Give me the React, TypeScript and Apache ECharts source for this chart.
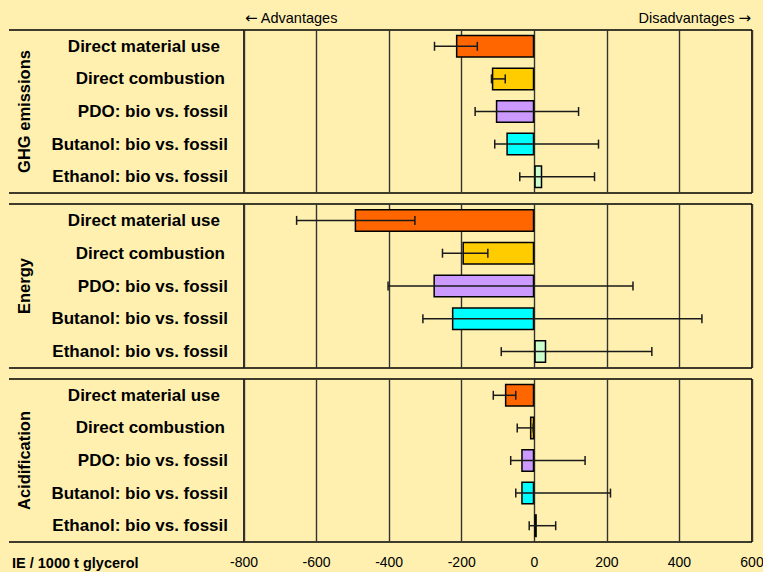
import React, { useEffect, useRef } from "react";
import * as echarts from "echarts";

// Categories shared by all three impact panels (top to bottom)
const categories = [
  "Direct material use",
  "Direct combustion",
  "PDO: bio vs. fossil",
  "Butanol: bio vs. fossil",
  "Ethanol: bio vs. fossil",
];

const barColors = ["#FF6600", "#FFCC00", "#CC99FF", "#00FFFF", "#CCFFCC"];

const panelTitles = ["GHG emissions", "Energy", "Acidification"];

// Mean values (IE / 1000 t glycerol)
const ghgValues = [-216, -117, -106, -77, 22];
const energyValues = [-495, -198, -278, -227, 33];
const acidValues = [-81, -12, -36, -36, 7];

// Uncertainty ranges [low, high]
const ghgRanges = [[-275, -157], [-118, -80], [-163, 122], [-109, 177], [-40, 166]];
const energyRanges = [[-655, -329], [-253, -128], [-403, 272], [-307, 462], [-91, 324]];
const acidRanges = [[-113, -51], [-47, -3], [-65, 140], [-51, 210], [-14, 59]];

const xTicks = { min: -800, max: 600, interval: 200 };

const panelValues = [ghgValues, energyValues, acidValues];
const panelRanges = [ghgRanges, energyRanges, acidRanges];

const BG = "#FFF0B0";
const FONT = "'Liberation Sans', Arial, sans-serif";
const ARROW_FONT = "'DejaVu Sans', sans-serif";

// panel boxes: top and height in px
const panels = [
  { top: 30, height: 163 },
  { top: 204, height: 164 },
  { top: 379, height: 163 },
];
const CHART_W = 763;
const GRID_LEFT = 244;
const GRID_RIGHT = 11;
const LINE_START = 9;

const labelPadKeys = ["p8", "p3", "p0", "p0", "p0"];

export default function App() {
  const ref = useRef<HTMLDivElement>(null);

  useEffect(() => {
    if (!ref.current) return;
    const chart = echarts.init(ref.current, undefined, { renderer: "svg" });

    const labelStyle = { fontFamily: FONT, fontWeight: "bold", fontSize: 17, color: "#000" };

    const grids = panels.map((p) => ({
      left: GRID_LEFT,
      right: GRID_RIGHT,
      top: p.top,
      height: p.height,
      containLabel: false,
      outerBoundsMode: "none",
      show: false,
    }));

    const xAxes = panels.map((_, i) => ({
      type: "value",
      gridIndex: i,
      min: xTicks.min,
      max: xTicks.max,
      interval: xTicks.interval,
      axisLine: { show: false },
      axisTick: { show: false },
      splitLine: { show: true, lineStyle: { color: "#333", width: 1.4 } },
      axisLabel: {
        show: i === panels.length - 1,
        margin: 13,
        fontFamily: FONT,
        fontSize: 14,
        color: "#000",
      },
    }));

    const yAxes = panels.map((_, i) => ({
      type: "category",
      gridIndex: i,
      data: categories,
      inverse: true,
      axisLine: { show: false },
      axisTick: { show: false },
      splitLine: { show: false },
      name: panelTitles[i],
      nameLocation: "middle",
      nameRotate: 90,
      nameGap: 212,
      nameTextStyle: { fontFamily: FONT, fontWeight: "bold", fontSize: 16.5, color: "#000" },
      axisLabel: {
        margin: 16,
        ...labelStyle,
        formatter: (v: string, idx: number) => `{${labelPadKeys[idx]}|${v}}`,
        rich: {
          p8: { ...labelStyle, padding: [0, 8, 0, 0] },
          p3: { ...labelStyle, padding: [0, 3, 0, 0] },
          p0: { ...labelStyle },
        },
      },
    }));

    const barSeries = panelValues.map((vals, i) => ({
      type: "bar",
      xAxisIndex: i,
      yAxisIndex: i,
      barWidth: 23,
      data: vals.map((v, k) => ({
        value: v,
        itemStyle: { color: barColors[k], borderColor: "#000", borderWidth: 1.5 },
      })),
    }));

    const errorSeries = panelRanges.map((ranges, i) => ({
      type: "custom",
      xAxisIndex: i,
      yAxisIndex: i,
      z: 3,
      encode: { x: [1, 2], y: 0 },
      data: ranges.map((r, k) => [k, r[0], r[1]]),
      renderItem: (_params: any, api: any) => {
        const cat = api.value(0);
        const lo = api.coord([api.value(1), cat]);
        const hi = api.coord([api.value(2), cat]);
        const h = 4.5;
        const style = { stroke: "#1a1a1a", lineWidth: 1.5 };
        return {
          type: "group",
          children: [
            { type: "line", shape: { x1: lo[0], y1: lo[1], x2: hi[0], y2: hi[1] }, style },
            { type: "line", shape: { x1: lo[0], y1: lo[1] - h, x2: lo[0], y2: lo[1] + h }, style },
            { type: "line", shape: { x1: hi[0], y1: hi[1] - h, x2: hi[0], y2: hi[1] + h }, style },
          ],
        };
      },
    }));

    // top and bottom rules of every panel, running under the category labels
    const rules: any[] = [];
    panels.forEach((p, i) => {
      [p.top, p.top + p.height].forEach((y, j) => {
        rules.push({
          type: "line",
          id: `rule-${i}-${j}`,
          shape: { x1: LINE_START, y1: y, x2: CHART_W - GRID_RIGHT, y2: y },
          style: { stroke: "#000", lineWidth: 1.6 },
        });
      });
    });

    // left and right edges of every plot box
    const edges: any[] = [];
    panels.forEach((p, i) => {
      [GRID_LEFT, CHART_W - GRID_RIGHT].forEach((x, j) => {
        edges.push({
          type: "line",
          id: `edge-${i}-${j}`,
          shape: { x1: x, y1: p.top, x2: x, y2: p.top + p.height },
          style: { stroke: "#000", lineWidth: 1.6 },
        });
      });
    });

    const plain = { fontFamily: FONT, fontSize: 14.5, fontWeight: "normal", color: "#000" };
    const arrow = { fontFamily: ARROW_FONT, fontSize: 15, fontWeight: "normal", color: "#000" };

    chart.setOption({
      animation: false,
      backgroundColor: BG,
      title: [
        {
          text: "{a|\u2190} Advantages",
          left: 241,
          top: 6,
          padding: 4,
          textStyle: { ...plain, rich: { a: arrow } },
        },
        {
          text: "Disadvantages {a|\u2192}",
          right: 8,
          top: 6,
          padding: 4,
          textStyle: { ...plain, rich: { a: arrow } },
        },
        {
          text: "IE / 1000 t glycerol",
          left: 8,
          top: 551,
          padding: 4,
          textStyle: { ...plain, fontWeight: "bold" },
        },
      ],
      grid: grids,
      xAxis: xAxes,
      yAxis: yAxes,
      series: [...barSeries, ...errorSeries],
      graphic: [...rules, ...edges],
    });

    return () => chart.dispose();
  }, []);

  return (
    <div
      ref={ref}
      style={{ position: "fixed", left: 0, top: 0, width: CHART_W, height: 572 }}
    />
  );
}
